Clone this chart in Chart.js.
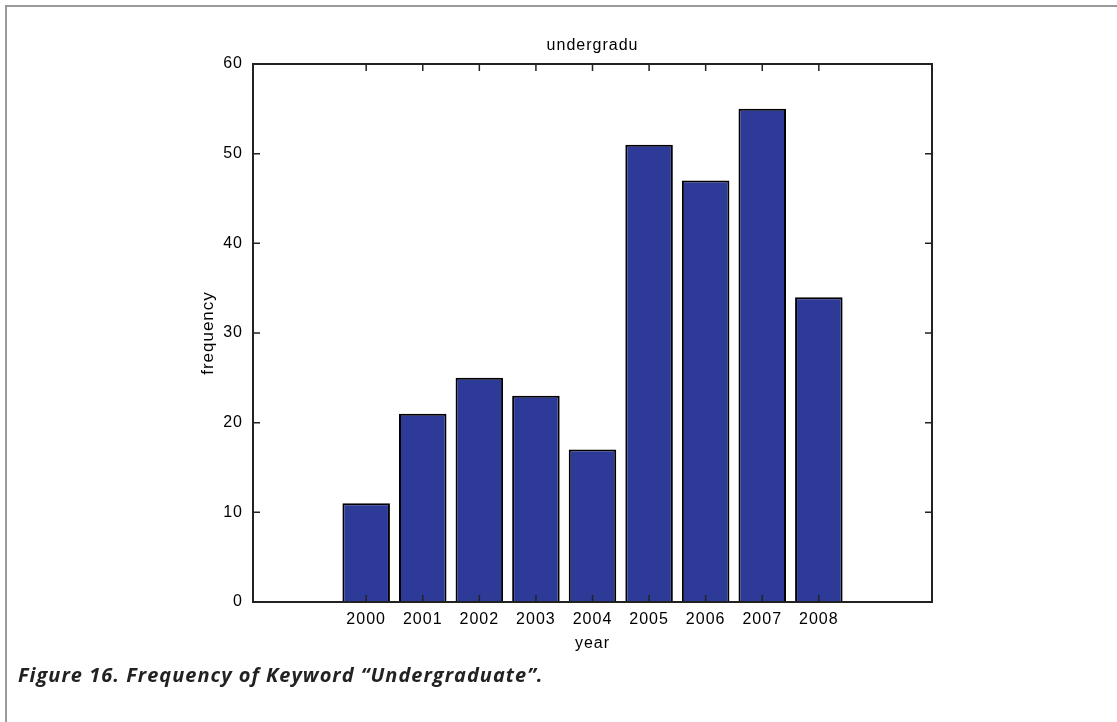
<!DOCTYPE html>
<html>
<head>
<meta charset="utf-8">
<script src="https://cdn.jsdelivr.net/npm/chart.js@4"></script>
<style>
    html, body { margin: 0; padding: 0; background: #fff; }
    #page { position: relative; width: 1117px; height: 722px; overflow: hidden; }
    #frame { position: absolute; left: 5px; top: 5px; right: -2px; bottom: -2px;
             border-top: 2px solid #9a9a9a; border-left: 2px solid #9a9a9a; }
    #wrap { position: absolute; left: 0; top: 0; width: 1117px; height: 722px; }
    #caption { position: absolute; left: 18px; top: 661px; margin: 0; letter-spacing: 1px;
               font: italic bold 20px "Open Sans", sans-serif; color: #222; }
</style>
</head>
<body>
<div id="page">
    <div id="frame"></div>
    <div id="wrap"><canvas id="freqChart" width="1117" height="722"></canvas></div>
    <p id="caption">Figure 16. Frequency of Keyword “Undergraduate”.</p>
</div>
<script>
const years = [2000, 2001, 2002, 2003, 2004, 2005, 2006, 2007, 2008];
const counts = [11, 21, 25, 23, 17, 51, 47, 55, 34];
const yTicks = [0, 10, 20, 30, 40, 50, 60];
const chartTitle = 'undergradu';

const FAMILY = 'Liberation Sans, Arial, sans-serif';
const TICK_FONT = { family: FAMILY, size: 16 };

// MATLAB style box with inward ticks on all four sides, plus the title over the axes
const boxTicks = {
    id: 'boxTicks',
    beforeDraw(chart) {
        chart.ctx.letterSpacing = '1px';
    },
    afterDraw(chart) {
        const { ctx, chartArea: a, scales: { x, y } } = chart;
        const len = 7;
        ctx.save();
        ctx.strokeStyle = '#222';
        ctx.lineWidth = 2;
        ctx.strokeRect(a.left, a.top, a.right - a.left, a.bottom - a.top);
        ctx.lineWidth = 1.5;
        ctx.beginPath();
        years.forEach(v => {
            const px = x.getPixelForValue(v);
            ctx.moveTo(px, a.top); ctx.lineTo(px, a.top + len);
            ctx.moveTo(px, a.bottom); ctx.lineTo(px, a.bottom - len);
        });
        yTicks.forEach(v => {
            const py = y.getPixelForValue(v);
            ctx.moveTo(a.left, py); ctx.lineTo(a.left + len, py);
            ctx.moveTo(a.right, py); ctx.lineTo(a.right - len, py);
        });
        ctx.stroke();

        ctx.fillStyle = '#000';
        ctx.font = '16px ' + FAMILY;
        ctx.textAlign = 'center';
        ctx.textBaseline = 'middle';
        ctx.fillText(chartTitle, (a.left + a.right) / 2, a.top - 18);
        ctx.restore();
    }
};

new Chart(document.getElementById('freqChart'), {
    type: 'bar',
    data: {
        datasets: [{
            data: years.map((yr, i) => ({ x: yr, y: counts[i] })),
            backgroundColor: '#2d3a98',
            borderColor: '#000',
            borderWidth: 2,
            barPercentage: 0.84,
            categoryPercentage: 1.0,
        }]
    },
    options: {
        responsive: false,
        animation: false,
        layout: { padding: { left: 193, right: 185, top: 64, bottom: 60 } },
        plugins: {
            legend: { display: false },
            tooltip: { enabled: false },
            title: { display: false }
        },
        scales: {
            x: {
                type: 'linear', min: 1998, max: 2010, offset: false,
                afterBuildTicks: s => { s.ticks = years.map(v => ({ value: v })); },
                afterFit: s => { s.height = 60; },
                grid: { display: false, drawTicks: false },
                border: { display: false },
                ticks: { color: '#000', font: TICK_FONT, padding: 8, autoSkip: false, maxRotation: 0,
                         callback: v => String(v) },
                title: { display: true, text: 'year', color: '#000', font: TICK_FONT,
                         padding: { top: 0, bottom: 9 } }
            },
            y: {
                min: 0, max: 60,
                afterBuildTicks: s => { s.ticks = yTicks.map(v => ({ value: v })); },
                afterFit: s => { s.width = 60; },
                grid: { display: false, drawTicks: false },
                border: { display: false },
                ticks: { color: '#000', font: TICK_FONT, padding: 10 },
                title: { display: true, text: 'frequency', color: '#000',
                         font: { family: FAMILY, size: 17 },
                         padding: { top: 5, bottom: 0 } }
            }
        }
    },
    plugins: [boxTicks]
});
</script>
</body>
</html>
